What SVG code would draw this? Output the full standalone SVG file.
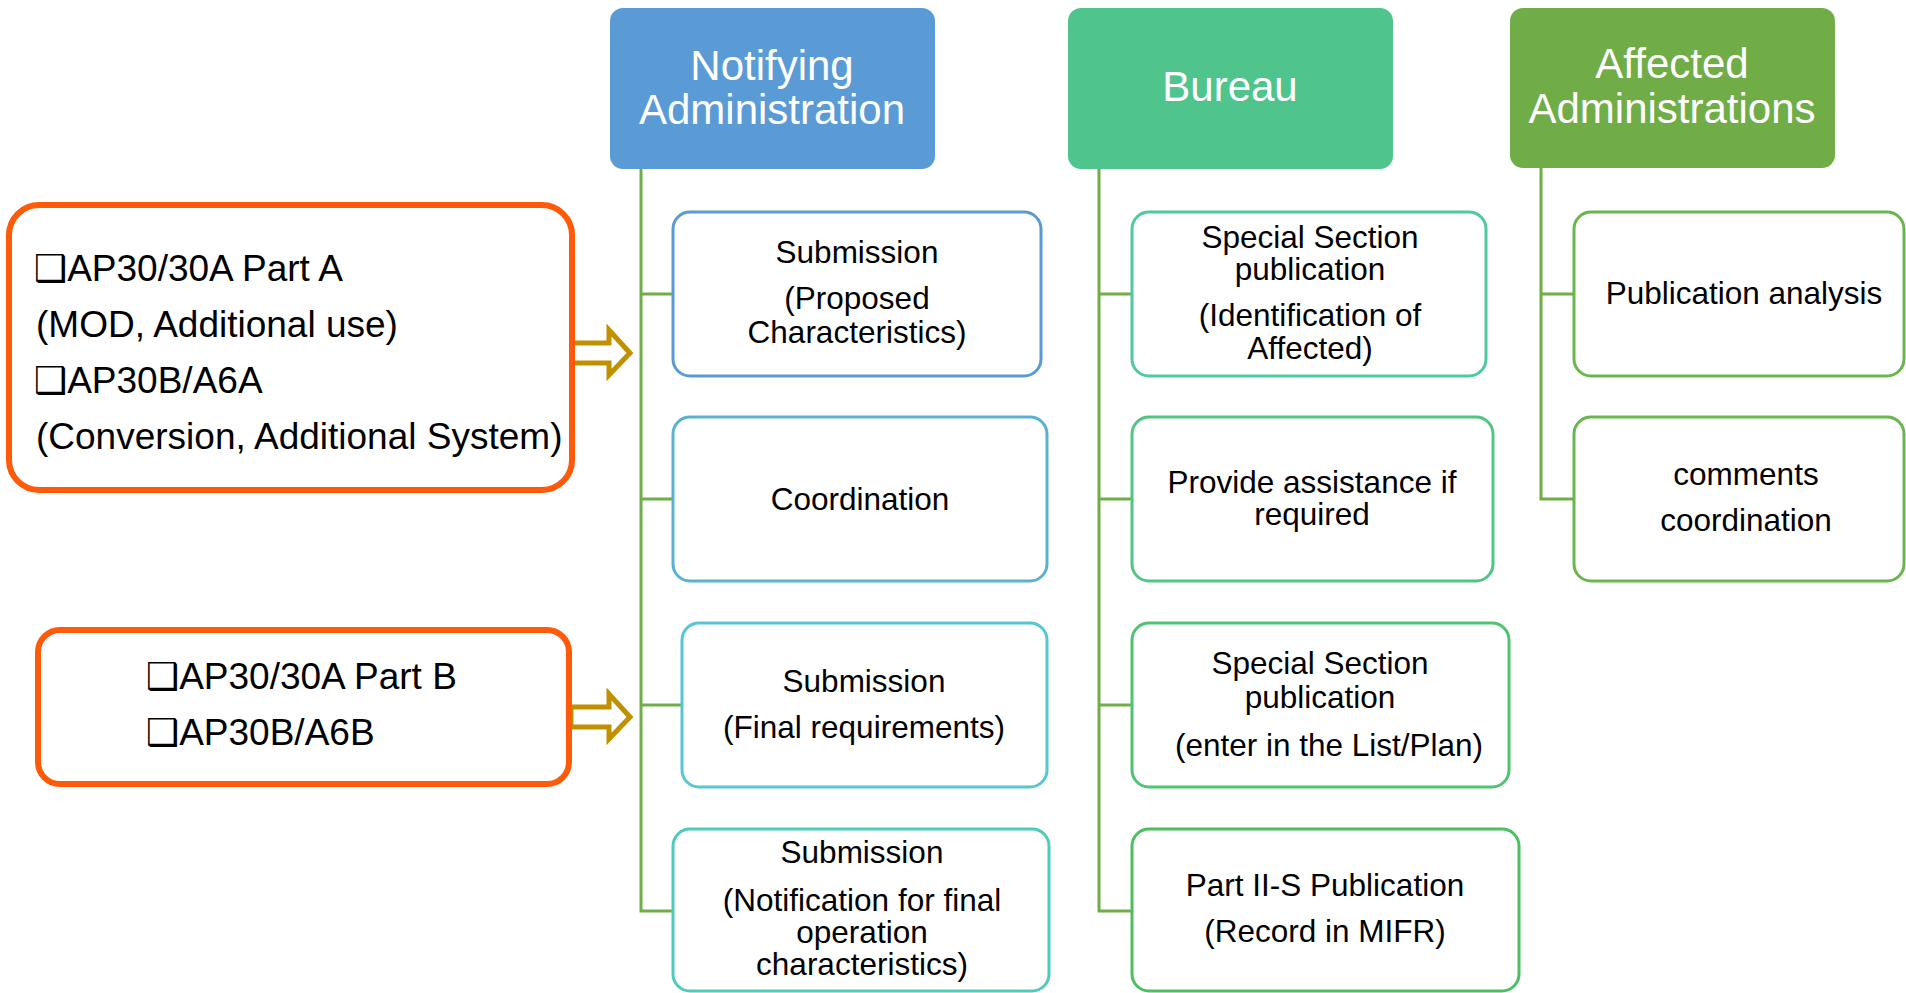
<svg xmlns="http://www.w3.org/2000/svg" width="1906" height="993" viewBox="0 0 1906 993">
<style>
  .hdr { font-family: "Liberation Sans", Arial, sans-serif; font-size: 42px; fill: #ffffff; text-anchor: middle; }
  .txt { font-family: "Liberation Sans", Arial, sans-serif; font-size: 31.5px; fill: #000000; text-anchor: middle; }
  .big { font-family: "Liberation Sans", Arial, sans-serif; font-size: 37px; fill: #000000; }
  .chk { font-family: "DejaVu Sans", sans-serif; font-size: 37px; }
  .box { fill: #ffffff; stroke-width: 3; }
  .src { fill: #ffffff; stroke: #FF5A0A; stroke-width: 6; }
  .conn { fill: none; stroke: #70AD47; stroke-width: 3; }
  .arrow { fill: #ffffff; stroke: #C09000; stroke-width: 5; stroke-linejoin: miter; }
</style>
<rect x="0" y="0" width="1906" height="993" fill="#ffffff"/>

<g id="connectors">
  <path class="conn" d="M641 169 V911 H673 M641 294 H673 M641 499 H673 M641 705 H682"/>
  <path class="conn" d="M1099 169 V911 H1132 M1099 294 H1132 M1099 499 H1132 M1099 705 H1132"/>
  <path class="conn" d="M1541 168 V499 H1574 M1541 294 H1574"/>
  <polygon class="arrow" points="571,343 609,343 609,330 630,353 609,375 609,363 571,363"/>
  <polygon class="arrow" points="571,707 609,707 609,694 630,717 609,739 609,727 571,727"/>
</g>

<g id="src1">
  <rect class="src" x="9" y="205" width="563" height="285" rx="30"/>
  <text class="big" x="34" y="281"><tspan class="chk">❑</tspan>AP30/30A Part A</text>
  <text class="big" x="36" y="337">(MOD, Additional use)</text>
  <text class="big" x="34" y="393"><tspan class="chk">❑</tspan>AP30B/A6A</text>
  <text class="big" x="36" y="449">(Conversion, Additional System)</text>
</g>
<g id="src2">
  <rect class="src" x="38" y="630" width="531" height="154" rx="22"/>
  <text class="big" x="146" y="689"><tspan class="chk">❑</tspan>AP30/30A Part B</text>
  <text class="big" x="146" y="745"><tspan class="chk">❑</tspan>AP30B/A6B</text>
</g>

<g id="hdr-notifying">
  <rect x="610" y="8" width="325" height="161" rx="13" fill="#5B9BD5"/>
  <text class="hdr" x="772" y="80">Notifying</text>
  <text class="hdr" x="772" y="124">Administration</text>
</g>
<g id="hdr-bureau">
  <rect x="1068" y="8" width="325" height="161" rx="13" fill="#4FC58D"/>
  <text class="hdr" x="1230" y="101">Bureau</text>
</g>
<g id="hdr-affected">
  <rect x="1510" y="8" width="325" height="160" rx="13" fill="#70AD47"/>
  <text class="hdr" x="1672" y="78">Affected</text>
  <text class="hdr" x="1672" y="123">Administrations</text>
</g>

<g id="n-sub1">
  <rect class="box" x="673" y="212" width="368" height="164" rx="17" stroke="#5B9BD5"/>
  <text class="txt" x="857" y="263">Submission</text>
  <text class="txt" x="857" y="309">(Proposed</text>
  <text class="txt" x="857" y="343">Characteristics)</text>
</g>
<g id="n-coord">
  <rect class="box" x="673" y="417" width="374" height="164" rx="17" stroke="#5AB1D2"/>
  <text class="txt" x="860" y="510">Coordination</text>
</g>
<g id="n-sub3">
  <rect class="box" x="682" y="623" width="365" height="164" rx="17" stroke="#55C6D2"/>
  <text class="txt" x="864" y="692">Submission</text>
  <text class="txt" x="864" y="738">(Final requirements)</text>
</g>
<g id="n-sub4">
  <rect class="box" x="673" y="829" width="376" height="162" rx="17" stroke="#4ECBBA"/>
  <text class="txt" x="862" y="863">Submission</text>
  <text class="txt" x="862" y="911">(Notification for final</text>
  <text class="txt" x="862" y="943">operation</text>
  <text class="txt" x="862" y="975">characteristics)</text>
</g>

<g id="b-special1">
  <rect class="box" x="1132" y="212" width="354" height="164" rx="17" stroke="#4EC9A0"/>
  <text class="txt" x="1310" y="248">Special Section</text>
  <text class="txt" x="1310" y="280">publication</text>
  <text class="txt" x="1310" y="326">(Identification of</text>
  <text class="txt" x="1310" y="359">Affected)</text>
</g>
<g id="b-assist">
  <rect class="box" x="1132" y="417" width="361" height="164" rx="17" stroke="#52C582"/>
  <text class="txt" x="1312" y="493">Provide assistance if</text>
  <text class="txt" x="1312" y="525">required</text>
</g>
<g id="b-special2">
  <rect class="box" x="1132" y="623" width="377" height="164" rx="17" stroke="#50C372"/>
  <text class="txt" x="1320" y="674">Special Section</text>
  <text class="txt" x="1320" y="708">publication</text>
  <text class="txt" x="1329" y="756">(enter in the List/Plan)</text>
</g>
<g id="b-part2s">
  <rect class="box" x="1132" y="829" width="387" height="162" rx="17" stroke="#4DBF62"/>
  <text class="txt" x="1325" y="896">Part II-S Publication</text>
  <text class="txt" x="1325" y="942">(Record in MIFR)</text>
</g>

<g id="a-analysis">
  <rect class="box" x="1574" y="212" width="330" height="164" rx="17" stroke="#6AB64E"/>
  <text class="txt" x="1744" y="304">Publication analysis</text>
</g>
<g id="a-comments">
  <rect class="box" x="1574" y="417" width="330" height="164" rx="17" stroke="#6AB64E"/>
  <text class="txt" x="1746" y="485">comments</text>
  <text class="txt" x="1746" y="531">coordination</text>
</g>
</svg>
